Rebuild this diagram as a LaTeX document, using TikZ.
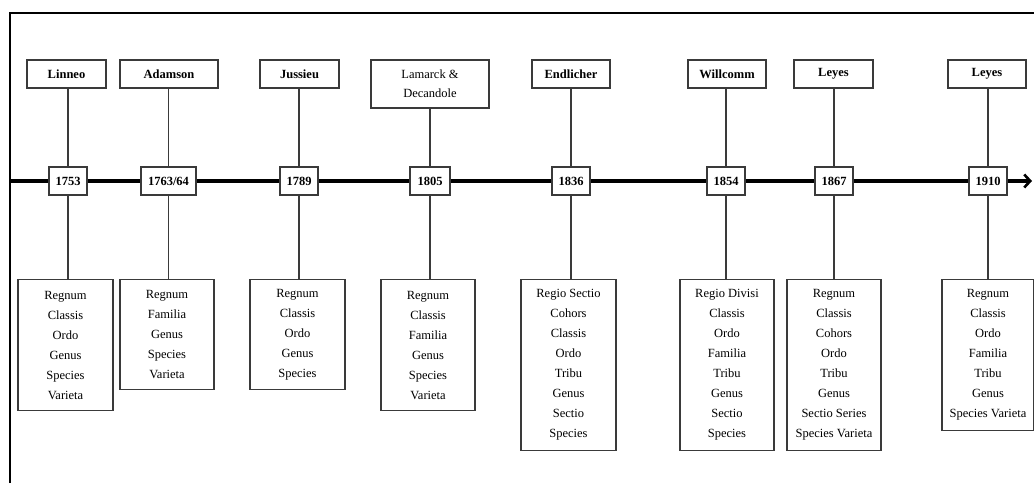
\documentclass[tikz,border=0pt]{standalone}
\usepackage{fontspec}
\setmainfont{Liberation Serif}
\usetikzlibrary{arrows.meta}
\definecolor{boxline}{HTML}{3A3A3A}
\begin{document}
\begin{tikzpicture}[x=1pt,y=-1pt,
  namebox/.style={draw=boxline,line width=1.3pt,fill=white,inner sep=0pt,
    minimum height=28pt,font=\fontsize{12.5}{15}\selectfont\bfseries},
  yearbox/.style={draw=boxline,line width=1.3pt,fill=white,inner sep=0pt,
    minimum height=28pt,font=\fontsize{12.5}{15}\selectfont\bfseries},
  rankbox/.style={draw=boxline,line width=1.3pt,fill=white,inner sep=0pt,
    align=center,anchor=north,font=\fontsize{12.5}{20}\selectfont},
  link/.style={draw=boxline,line width=1.3pt}]
\useasboundingbox (0,0) rectangle (1034,483);
\fill[white] (0,0) rectangle (1034,483);

% frame
\draw[line width=2.6pt] (10,483) -- (10,13) -- (1034,13);

% time axis
\coordinate (tlL) at (10,181);
\coordinate (tlR) at (1032,181);
\draw[line width=3.6pt,-{Straight Barb[length=6pt,width=13pt,line width=2.6pt]}] (tlL) -- (tlR);

% authors
\node[namebox,minimum width=79pt] (n1) at (66.5,74) {Linneo};
\node[namebox,minimum width=98pt] (n2) at (169,74) {Adamson};
\node[namebox,minimum width=79pt] (n3) at (299.5,74) {Jussieu};
\node[namebox,minimum width=118pt,minimum height=48pt,align=center,
  font=\fontsize{12.5}{19}\selectfont] (n4) at (430,84) {Lamarck \&\\Decandole};
\node[namebox,minimum width=78pt] (n5) at (571,74) {Endlicher};
\node[namebox,minimum width=78pt] (n6) at (727,74) {Willcomm};
\node[namebox,minimum width=79pt] (n7) at (833.5,74) {Leyes};
\node[namebox,minimum width=78pt] (n8) at (987,74) {Leyes};

% years
\node[yearbox,minimum width=38pt] (y1) at (68,181) {1753};
\node[yearbox,minimum width=55pt] (y2) at (168.5,181) {1763/64};
\node[yearbox,minimum width=38pt] (y3) at (299,181) {1789};
\node[yearbox,minimum width=40pt] (y4) at (430,181) {1805};
\node[yearbox,minimum width=38pt] (y5) at (571,181) {1836};
\node[yearbox,minimum width=38pt] (y6) at (726,181) {1854};
\node[yearbox,minimum width=38pt] (y7) at (834,181) {1867};
\node[yearbox,minimum width=38pt] (y8) at (988,181) {1910};

% ranks
\node[rankbox,minimum width=95pt,minimum height=131pt] (r1) at (65.5,279)
  {Regnum\\Classis\\Ordo\\Genus\\Species\\Varieta};
\node[rankbox,minimum width=94pt,minimum height=110pt] (r2) at (167,279)
  {Regnum\\Familia\\Genus\\Species\\Varieta};
\node[rankbox,minimum width=95pt,minimum height=110pt] (r3) at (297.5,279)
  {Regnum\\Classis\\Ordo\\Genus\\Species};
\node[rankbox,minimum width=94pt,minimum height=131pt] (r4) at (428,279)
  {Regnum\\Classis\\Familia\\Genus\\Species\\Varieta};
\node[rankbox,minimum width=95pt,minimum height=171pt] (r5) at (568.5,279)
  {Regio Sectio\\Cohors\\Classis\\Ordo\\Tribu\\Genus\\Sectio\\Species};
\node[rankbox,minimum width=94pt,minimum height=171pt] (r6) at (727,279)
  {Regio Divisi\\Classis\\Ordo\\Familia\\Tribu\\Genus\\Sectio\\Species};
\node[rankbox,minimum width=94pt,minimum height=171pt] (r7) at (834,279)
  {Regnum\\Classis\\Cohors\\Ordo\\Tribu\\Genus\\Sectio Series\\Species Varieta};
\node[rankbox,minimum width=92pt,minimum height=151pt] (r8) at (988,279)
  {Regnum\\Classis\\Ordo\\Familia\\Tribu\\Genus\\Species Varieta};

% connectors
\foreach \i in {1,...,8}{
  \draw[link] (n\i.south -| y\i.north) -- (y\i.north);
  \draw[link] (y\i.south) -- (y\i.south |- r\i.north);
}
\end{tikzpicture}
\end{document}
